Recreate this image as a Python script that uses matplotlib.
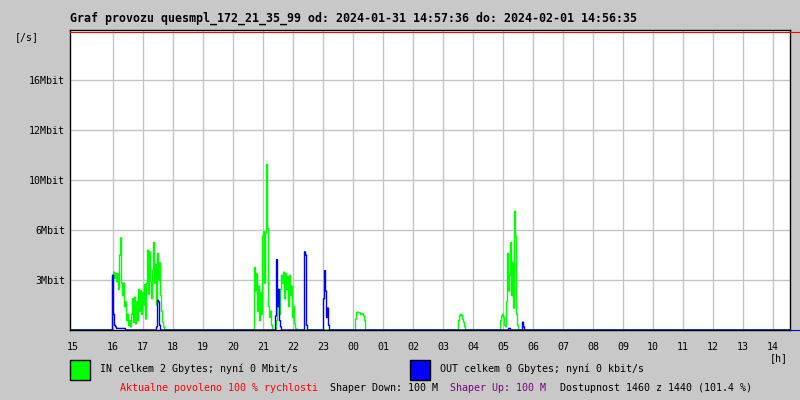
import numpy as np
import matplotlib
matplotlib.use('Agg')
import matplotlib.pyplot as plt
from matplotlib.lines import Line2D
from matplotlib.patches import Rectangle

# time axis: minutes since 15:00, one sample every 2 minutes
t_start = -26
t_end = 1414
step = 2

# IN traffic (Mbit/s), bursts given as start minute + consecutive samples
in_start = [58, 342, 386, 544, 750, 834]
in_bursts = [
    [0, 3.4, 3.7, 3.3, 3.6, 3.1, 3.6, 2.6, 4.8, 5.9, 3.0, 2.2, 3.0, 1.5, 1.8, 0.6, 1.0, 0.3,
     0.6, 0.2, 1.0, 2.0, 0.5, 2.1, 0.4, 1.8, 0.6, 2.6, 1.2, 2.5, 1.0, 2.4, 1.6, 2.9, 0.7, 3.0,
     5.1, 2.3, 5.0, 3.1, 2.0, 3.8, 5.6, 3.0, 4.2, 1.6, 4.9, 3.2, 4.3, 2.2, 1.2, 0.5, 0.2, 0],
    [0, 4.0, 2.5, 3.6, 1.2, 2.8, 0.6, 2.4, 1.0, 6.0, 6.3, 3.0, 6.2, 10.6, 6.5, 1.5, 0.8, 1.2,
     0.3, 0],
    [0, 0.6, 1.5, 2.4, 1.0, 2.6, 3.5, 3.0, 3.7, 2.0, 3.6, 2.6, 3.4, 1.5, 3.5, 2.2, 2.8, 0.8,
     1.5, 0.4, 0.1, 0],
    [0, 0.7, 1.1, 1.15, 1.1, 1.1, 1.0, 1.05, 1.0, 0.9, 0.6, 0],
    [0, 0.6, 0.9, 1.0, 0.95, 0.7, 0.5, 0.2, 0],
    [0, 0.6, 0.9, 1.0, 0.8, 0.3, 0.2, 1.8, 4.9, 2.5, 3.5, 5.6, 2.2, 4.3, 1.4, 7.6, 6.0, 1.0,
     0.3, 0],
]

# OUT traffic (Mbit/s)
out_start = [58, 146, 384, 442, 480, 850, 878]
out_bursts = [
    [0, 3.5, 1.0, 0.3, 0.2, 0.1, 0.1, 0.1, 0.1, 0.1, 0.1, 0.1, 0.1, 0.1, 0],
    [0, 0.2, 1.9, 1.8, 0.3, 0],
    [0, 0.9, 4.5, 1.5, 2.6, 0.6, 0.2, 0],
    [0, 5.0, 4.8, 0.3, 0],
    [0, 2.0, 3.8, 2.5, 0.8, 1.4, 0.3, 0],
    [0, 0.1, 0.1, 0],
    [0, 0.5, 0.2, 0],
]

hour_ticks = list(range(60, 1381, 60))
tick_pos = [-21] + hour_ticks
tick_labels = ['15', '16', '17', '18', '19', '20', '21', '22', '23', '00', '01', '02', '03',
               '04', '05', '06', '07', '08', '09', '10', '11', '12', '13', '14']
y_ticks = [3.2, 6.4, 9.6, 12.8, 16.0]
y_labels = ['3Mbit', '6Mbit', '10Mbit', '12Mbit', '16Mbit']

t = np.arange(t_start, t_end + 1, step)


def build(starts, bursts):
    v = np.zeros(len(t))
    for s, b in zip(starts, bursts):
        i = (s - t_start) // step
        v[i:i + len(b)] = b
    return v


in_v = build(in_start, in_bursts)
out_v = build(out_start, out_bursts)

bg = '#c8c8c8'
mono = 'DejaVu Sans Mono'
fs = 7.2

fig = plt.figure(figsize=(8, 4), dpi=100, facecolor=bg)
ax = fig.add_axes([70 / 800, 1 - 330 / 400, 720 / 800, 300 / 400])
ax.set_facecolor('white')

ax.plot(t, in_v, color='#00ff00', lw=1.0, drawstyle='steps-mid', zorder=3)
ax.plot(t, out_v, color='#0000ff', lw=1.0, drawstyle='steps-mid', zorder=4)

ax.set_xlim(t_start, t_end)
ax.set_ylim(0, 19.2)
ax.set_yticks(y_ticks)
ax.grid(True, color='#c4c4c4', lw=1.0, zorder=1)
ax.set_axisbelow(True)
ax.set_xticks(tick_pos)
ax.set_xticklabels(tick_labels, family=mono, fontsize=fs)
ax.set_yticklabels(y_labels, family=mono, fontsize=fs)
# no gridline for the odd first label
ax.get_xgridlines()[0].set_visible(False)
ax.tick_params(length=0)
ax.tick_params(axis='x', pad=8.5)
ax.tick_params(axis='y', pad=3.6)
for sp in ax.spines.values():
    sp.set_color('black')
    sp.set_linewidth(1.0)
    sp.set_zorder(6)

# red max line at top and small marker past the right edge
fig.add_artist(Line2D([70 / 800, 1.0], [1 - 31.5 / 400] * 2, color='#ff0000', lw=0.8))
fig.add_artist(Line2D([790 / 800, 1.0], [1 - 329.5 / 400] * 2, color='#0000ff', lw=0.8))

fig.text(70 / 800, 1 - 18 / 400,
         'Graf provozu quesmpl_172_21_35_99 od: 2024-01-31 14:57:36 do: 2024-02-01 14:56:35',
         family=mono, fontsize=8.4, fontweight='bold', va='center', ha='left')
fig.text(15 / 800, 1 - 37 / 400, '[/s]', family=mono, fontsize=fs, va='center', ha='left')
fig.text(770 / 800, 1 - 358 / 400, '[h]', family=mono, fontsize=fs, va='center', ha='left')

# legend
fig.add_artist(Rectangle((70 / 800, 1 - 380 / 400), 20 / 800, 20 / 400, facecolor='#00ff00',
                         edgecolor='black', lw=1.0, transform=fig.transFigure))
fig.text(100 / 800, 1 - 369 / 400, 'IN celkem 2 Gbytes; nyní 0 Mbit/s', family=mono,
         fontsize=fs, va='center', ha='left')
fig.add_artist(Rectangle((410 / 800, 1 - 380 / 400), 20 / 800, 20 / 400, facecolor='#0000ff',
                         edgecolor='black', lw=1.0, transform=fig.transFigure))
fig.text(440 / 800, 1 - 369 / 400, 'OUT celkem 0 Gbytes; nyní 0 kbit/s', family=mono,
         fontsize=fs, va='center', ha='left')

fig.text(120 / 800, 1 - 388 / 400, 'Aktualne povoleno 100 % rychlosti', family=mono,
         fontsize=fs, va='center', ha='left', color='#ff0000')
fig.text(330 / 800, 1 - 388 / 400, 'Shaper Down: 100 M', family=mono,
         fontsize=fs, va='center', ha='left')
fig.text(450 / 800, 1 - 388 / 400, 'Shaper Up: 100 M', family=mono,
         fontsize=fs, va='center', ha='left', color='#800080')
fig.text(560 / 800, 1 - 388 / 400, 'Dostupnost 1460 z 1440 (101.4 %)', family=mono,
         fontsize=fs, va='center', ha='left')

plt.savefig('out.png', format='png', facecolor=bg)
